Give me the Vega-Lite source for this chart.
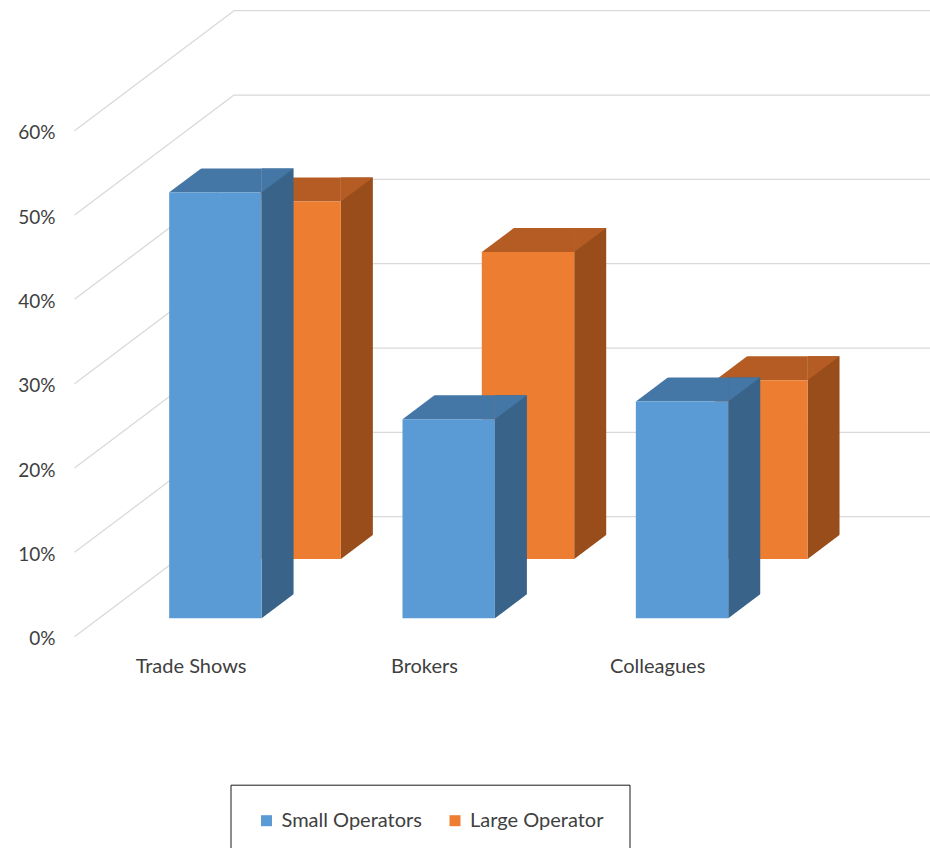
{
  "$schema": "https://vega.github.io/schema/vega-lite/v6.json",
  "width": 696,
  "height": 506,
  "autosize": "none",
  "padding": {"left": 234, "top": 10.7, "right": 0, "bottom": 331.3},
  "background": "#ffffff",
  "config": {
    "view": {"stroke": null},
    "font": "Lato",
    "legend": {
      "orient": "none",
      "legendX": -3.5,
      "legendY": 774,
      "direction": "horizontal",
      "title": null,
      "strokeColor": "#1a1a1a",
      "strokeWidth": 1,
      "padding": 26,
      "symbolType": "square",
      "symbolSize": 121,
      "symbolStrokeWidth": 0,
      "labelFont": "Lato",
      "labelFontSize": 20,
      "labelColor": "#404040",
      "labelOffset": 5,
      "columnPadding": 22.5
    }
  },
  "datasets": {
    "survey": [
      {"source": "Trade Shows", "operator": "Small Operators", "pct": 0.505},
      {"source": "Trade Shows", "operator": "Large Operator", "pct": 0.424},
      {"source": "Brokers", "operator": "Small Operators", "pct": 0.236},
      {"source": "Brokers", "operator": "Large Operator", "pct": 0.364},
      {"source": "Colleagues", "operator": "Small Operators", "pct": 0.257},
      {"source": "Colleagues", "operator": "Large Operator", "pct": 0.212}
    ],
    "wallTicks": [
      {"pct": 0}, {"pct": 0.1}, {"pct": 0.2}, {"pct": 0.3},
      {"pct": 0.4}, {"pct": 0.5}, {"pct": 0.6}
    ]
  },
  "encoding": {
    "y": {
      "field": "pct",
      "type": "quantitative",
      "scale": {"domain": [0, 0.6], "nice": false, "zero": true},
      "axis": {
        "title": null,
        "values": [0, 0.1, 0.2, 0.3, 0.4, 0.5, 0.6],
        "format": ".0%",
        "grid": false,
        "ticks": false,
        "domain": false,
        "labelPadding": 179,
        "labelOffset": 122,
        "labelFont": "Lato",
        "labelFontSize": 19,
        "labelColor": "#404040"
      }
    }
  },
  "layer": [
    {
      "data": {"name": "wallTicks"},
      "layer": [
        {
          "mark": {"type": "rule", "color": "#d9d9d9", "strokeWidth": 1.25},
          "encoding": {}
        },
        {
          "mark": {"type": "rule", "color": "#d9d9d9", "strokeWidth": 1.25, "yOffset": 120},
          "encoding": {
            "x": {"datum": 1, "type": "quantitative", "scale": {"domain": [0, 1], "range": [0, -159.5]}, "axis": null},
            "x2": {"datum": 0},
            "y2": {"field": "pct"}
          }
        }
      ]
    },
    {
      "data": {"name": "survey"},
      "encoding": {
        "x": {
          "field": "source",
          "type": "nominal",
          "sort": ["Trade Shows", "Brokers", "Colleagues"],
          "scale": {"range": [0, 700], "paddingInner": 0, "paddingOuter": 0},
          "axis": {
            "title": null,
            "labelAngle": 0,
            "labelOffset": -159.6,
            "labelPadding": 140,
            "ticks": false,
            "domain": false,
            "grid": false,
            "labelFont": "Lato",
            "labelFontSize": 20,
            "labelColor": "#404040"
          }
        }
      },
      "layer": [
        {
          "transform": [{"filter": "datum.operator === 'Large Operator'"}],
          "mark": {"type": "bar", "fill": "#984D1B", "width": 32, "xOffset": 6.2, "yOffset": 18.3, "y2Offset": 42.3},
          "encoding": {"y2": {"datum": 0}}
        },
        {
          "transform": [{"filter": "datum.operator === 'Large Operator'"}],
          "mark": {"type": "bar", "fill": "#B55C24", "width": 92.4, "xOffset": -56, "yOffset": 18.3, "y2Offset": 42.3},
          "encoding": {"y2": {"field": "pct"}}
        },
        {
          "transform": [{"filter": "datum.operator === 'Large Operator'"}],
          "mark": {"type": "point", "shape": "M-1,0.75L1,-0.75L-1,-0.75Z", "size": 1024, "filled": true, "opacity": 1, "fill": "#B55C24", "strokeWidth": 0, "xOffset": 6.2, "yOffset": 30.3},
          "encoding": {}
        },
        {
          "transform": [{"filter": "datum.operator === 'Large Operator'"}],
          "mark": {"type": "point", "shape": "M-1.12,0.84L1.12,-0.84L-1.12,-0.84Z", "size": 1024, "filled": true, "opacity": 1, "fill": "#ffffff", "strokeWidth": 0, "xOffset": -86.2, "yOffset": 30.3},
          "encoding": {}
        },
        {
          "transform": [{"filter": "datum.operator === 'Large Operator'"}],
          "mark": {"type": "point", "shape": "M-1.12,0.84L1.12,-0.84L1.12,0.84Z", "size": 1024, "filled": true, "opacity": 1, "fill": "#ffffff", "strokeWidth": 0, "xOffset": 6.2, "yOffset": 30.3},
          "encoding": {"y": {"datum": 0}}
        },
        {
          "transform": [{"filter": "datum.operator === 'Large Operator'"}],
          "mark": {"type": "bar", "width": 92.4, "xOffset": -56, "yOffset": 42.3, "y2Offset": 42.3},
          "encoding": {
            "y2": {"datum": 0},
            "color": {"field": "operator", "type": "nominal", "scale": {"domain": ["Small Operators", "Large Operator"], "range": ["#5B9BD5", "#ED7D31"]}}
          }
        },
        {
          "transform": [{"filter": "datum.operator === 'Small Operators'"}],
          "mark": {"type": "bar", "fill": "#396389", "width": 32, "xOffset": -73.1, "yOffset": 77.6, "y2Offset": 101.6},
          "encoding": {"y2": {"datum": 0}}
        },
        {
          "transform": [{"filter": "datum.operator === 'Small Operators'"}],
          "mark": {"type": "bar", "fill": "#4476A6", "width": 92.4, "xOffset": -135.3, "yOffset": 77.6, "y2Offset": 101.6},
          "encoding": {"y2": {"field": "pct"}}
        },
        {
          "transform": [{"filter": "datum.operator === 'Small Operators'"}],
          "mark": {"type": "point", "shape": "M-1,0.75L1,-0.75L-1,-0.75Z", "size": 1024, "filled": true, "opacity": 1, "fill": "#4476A6", "strokeWidth": 0, "xOffset": -73.1, "yOffset": 89.6},
          "encoding": {}
        },
        {
          "transform": [{"filter": "datum.operator === 'Small Operators'"}],
          "mark": {"type": "point", "shape": "M-1.12,0.84L1.12,-0.84L-1.12,-0.84Z", "size": 1024, "filled": true, "opacity": 1, "fill": "#ffffff", "strokeWidth": 0, "xOffset": -165.5, "yOffset": 89.6},
          "encoding": {}
        },
        {
          "transform": [{"filter": "datum.operator === 'Small Operators'"}],
          "mark": {"type": "point", "shape": "M-1.12,0.84L1.12,-0.84L1.12,0.84Z", "size": 1024, "filled": true, "opacity": 1, "fill": "#ffffff", "strokeWidth": 0, "xOffset": -73.1, "yOffset": 89.6},
          "encoding": {"y": {"datum": 0}}
        },
        {
          "transform": [{"filter": "datum.operator === 'Small Operators'"}],
          "mark": {"type": "bar", "width": 92.4, "xOffset": -135.3, "yOffset": 101.6, "y2Offset": 101.6},
          "encoding": {
            "y2": {"datum": 0},
            "color": {"field": "operator", "type": "nominal", "scale": {"domain": ["Small Operators", "Large Operator"], "range": ["#5B9BD5", "#ED7D31"]}}
          }
        }
      ]
    }
  ],
  "resolve": {"scale": {"x": "independent"}}
}
